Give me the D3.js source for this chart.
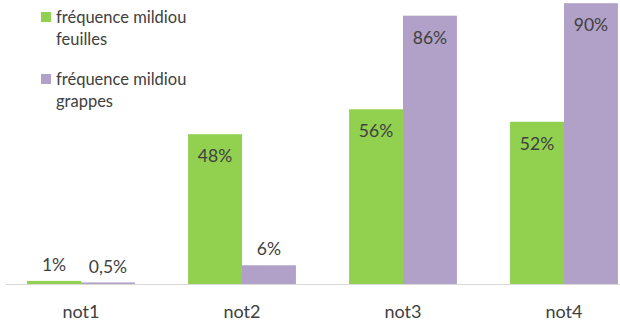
<!DOCTYPE html>
<html>
<head>
<meta charset="utf-8">
<script src="https://cdn.jsdelivr.net/npm/d3@7"></script>
<style>
  body { margin: 0; background: #fff; }
  text { font-family: Lato, "Open Sans", sans-serif; fill: #404040; }
</style>
</head>
<body>
<div class="chart"></div>
<script>
const categories = ["not1", "not2", "not3", "not4"]
const feuilles = [1, 48, 56, 52]
const grappes = [0.5, 6, 86, 90]
const labelsFeuilles = ["1%", "48%", "56%", "52%"]
const labelsGrappes = ["0,5%", "6%", "86%", "90%"]
const seriesNames = ["fréquence mildiou feuilles", "fréquence mildiou grappes"]
const colors = ["#92D050", "#B1A0C7"]

const width = 620, height = 325
const baseY = 284

const svg = d3.select(".chart").append("svg")
  .attr("width", width)
  .attr("height", height)

const x = d3.scaleBand()
  .domain(categories)
  .range([0.5, 644.5])
  .paddingInner(0.33)
  .paddingOuter(0.165)

const sub = d3.scaleBand()
  .domain([0, 1])
  .range([0, x.bandwidth()])

const y = d3.scaleLinear()
  .domain([0, 100])
  .range([baseY, -28])

// axis line
svg.append("line")
  .attr("x1", 6).attr("x2", width)
  .attr("y1", baseY + 0.5).attr("y2", baseY + 0.5)
  .attr("stroke", "#d9d9d9")
  .attr("stroke-width", 1)

const series = [
  {vals: feuilles, labels: labelsFeuilles},
  {vals: grappes, labels: labelsGrappes}
]

series.forEach((s, k) => {
  const g = svg.append("g")
  g.selectAll("rect")
    .data(categories)
    .enter()
    .append("rect")
    .attr("x", (d) => x(d) + sub(k))
    .attr("width", sub.bandwidth())
    .attr("y", (d, i) => y(s.vals[i]))
    .attr("height", (d, i) => baseY - y(s.vals[i]))
    .attr("fill", colors[k])

  g.selectAll("text")
    .data(categories)
    .enter()
    .append("text")
    .attr("x", (d) => x(d) + sub(k) + sub.bandwidth() / 2)
    .attr("y", (d, i) => s.vals[i] > 20 ? y(s.vals[i]) + 22 : y(s.vals[i]) - 16)
    .attr("dy", "0.35em")
    .attr("text-anchor", "middle")
    .attr("font-size", 17.5)
    .text((d, i) => s.labels[i])
})

// category labels
const xAxis = d3.axisBottom(x).tickSize(0).tickPadding(0)
const xg = svg.append("g")
  .attr("transform", `translate(0, ${baseY})`)
  .call(xAxis)
xg.select(".domain").remove()
xg.selectAll("text")
  .attr("y", 28)
  .attr("dy", "0.35em")
  .attr("font-size", 18)
  .attr("font-family", "Lato, 'Open Sans', sans-serif")
  .attr("fill", "#404040")

// legend
const legend = svg.append("g")
seriesNames.forEach((name, k) => {
  const top = 12 + k * 62
  legend.append("rect")
    .attr("x", 41).attr("y", top)
    .attr("width", 10).attr("height", 10)
    .attr("fill", colors[k])
  const words = name.split(" ")
  const t = legend.append("text")
    .attr("x", 56).attr("y", top + 5)
    .attr("font-size", 16.5)
    .attr("fill", "#595959")
  t.append("tspan").attr("x", 56).attr("dy", "0.35em").text(words.slice(0, 2).join(" "))
  t.append("tspan").attr("x", 56).attr("dy", 22).text(words.slice(2).join(" "))
})
</script>
</body>
</html>
